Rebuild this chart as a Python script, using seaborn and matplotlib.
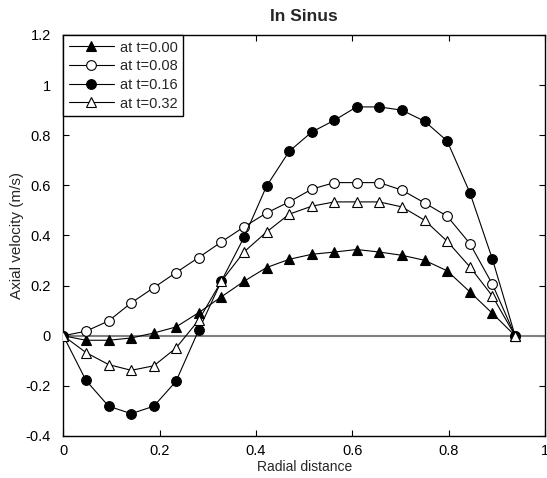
import numpy as np
import pandas as pd
import seaborn as sns
import matplotlib
matplotlib.use("Agg")
import matplotlib.pyplot as plt
from matplotlib.ticker import FixedLocator, FixedFormatter

# Radial positions of the velocity samples
radial = [0.0, 0.047, 0.094, 0.141, 0.188, 0.234, 0.281, 0.328, 0.375, 0.422,
          0.469, 0.516, 0.563, 0.609, 0.656, 0.703, 0.750, 0.797, 0.844, 0.891, 0.938]

# Axial velocity profiles (m/s) at four instants
v_t000 = [0.0, -0.018, -0.018, -0.009, 0.011, 0.035, 0.092, 0.155, 0.217, 0.272,
          0.305, 0.325, 0.334, 0.344, 0.334, 0.321, 0.301, 0.259, 0.175, 0.089, 0.0]
v_t008 = [0.0, 0.018, 0.059, 0.131, 0.192, 0.252, 0.312, 0.374, 0.434, 0.490,
          0.534, 0.585, 0.611, 0.611, 0.611, 0.581, 0.530, 0.477, 0.368, 0.205, 0.0]
v_t016 = [0.0, -0.178, -0.281, -0.311, -0.281, -0.182, 0.022, 0.217, 0.392, 0.597,
          0.736, 0.813, 0.860, 0.913, 0.913, 0.900, 0.856, 0.777, 0.571, 0.305, 0.0]
v_t032 = [0.0, -0.067, -0.115, -0.138, -0.120, -0.049, 0.062, 0.217, 0.334, 0.414,
          0.485, 0.517, 0.534, 0.534, 0.534, 0.514, 0.461, 0.377, 0.275, 0.158, 0.0]

labels = ["at t=0.00", "at t=0.08", "at t=0.16", "at t=0.32"]
series = [v_t000, v_t008, v_t016, v_t032]
markers = ["^", "o", "o", "^"]
faces = ["black", "white", "black", "white"]

x_ticks = [0, 0.2, 0.4, 0.6, 0.8, 1]
x_tick_labels = ["0", "0.2", "0.4", "0.6", "0.8", "1"]
y_ticks = [-0.4, -0.2, 0, 0.2, 0.4, 0.6, 0.8, 1, 1.2]
y_tick_labels = ["-0.4", "-0.2", "0", "0.2", "0.4", "0.6", "0.8", "1", "1.2"]

sns.set_style("ticks")
plt.rcParams["font.family"] = ["Liberation Sans", "DejaVu Sans"]
plt.rcParams["axes.linewidth"] = 1.0

fig = plt.figure(figsize=(5.47, 4.78), dpi=100)
ax = fig.add_axes([0.1157, 0.0879, 0.8806, 0.8389])

ax.axhline(0, color="#808080", lw=1.5, zorder=1)

for lab, vals, mk, fc in zip(labels, series, markers, faces):
    df = pd.DataFrame({"r": radial, "v": vals})
    sns.lineplot(data=df, x="r", y="v", ax=ax, estimator=None, sort=False,
                 color="black", lw=0.8, marker=mk, markersize=7.5 if mk == "^" else 7,
                 markerfacecolor=fc, markeredgecolor="black", markeredgewidth=0.8,
                 label=lab, zorder=3)

ax.set_xlim(0, 1)
ax.set_ylim(-0.4, 1.2)
ax.xaxis.set_major_locator(FixedLocator(x_ticks))
ax.xaxis.set_major_formatter(FixedFormatter(x_tick_labels))
ax.yaxis.set_major_locator(FixedLocator(y_ticks))
ax.yaxis.set_major_formatter(FixedFormatter(y_tick_labels))
ax.tick_params(direction="in", length=4, width=0.8, top=True, right=True,
               labelsize=10.5, colors="black")
ax.tick_params(axis="x", pad=6)
ax.tick_params(axis="y", pad=9)
for s in ax.spines.values():
    s.set_visible(True)
    s.set_color("black")

ax.set_xlabel("Radial distance", fontsize=10, labelpad=1)
ax.set_ylabel("Axial velocity (m/s)", fontsize=11, labelpad=1)
ax.set_title("In Sinus", fontsize=12.5, fontweight="bold", pad=10)

leg = ax.legend(loc="upper left", bbox_to_anchor=(0, 1), borderaxespad=0,
                fontsize=10.5, frameon=True, fancybox=False, handlelength=3.1,
                handletextpad=0.4, labelspacing=0.32, borderpad=0.38)
leg.get_frame().set_edgecolor("black")
leg.get_frame().set_linewidth(1.0)
leg.get_frame().set_alpha(1)

fig.savefig("out.png", dpi=100)
